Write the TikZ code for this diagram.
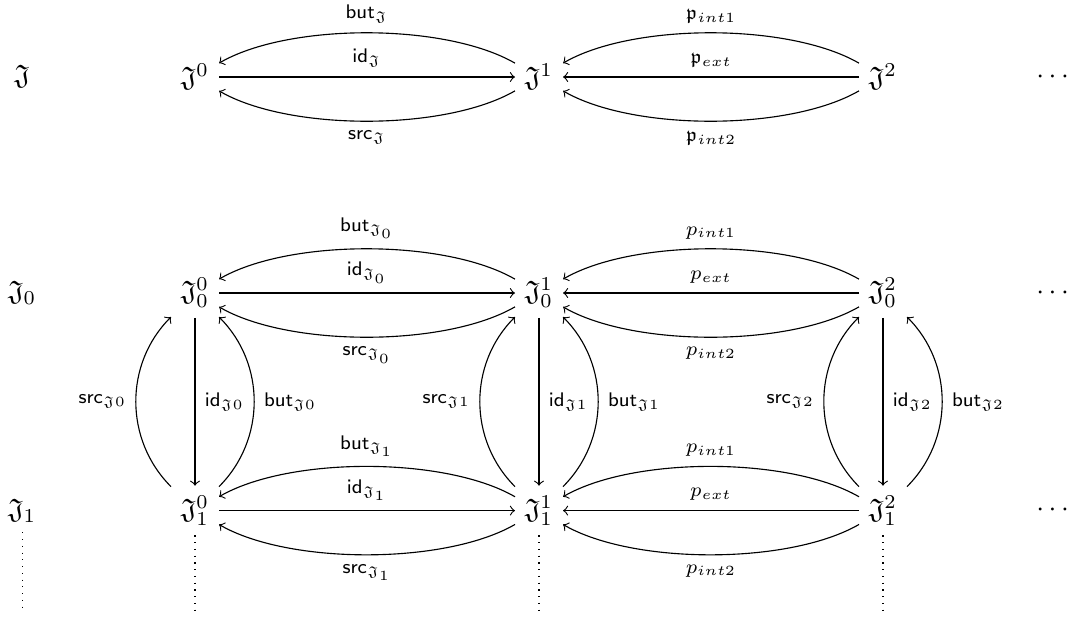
\documentclass[tikz,border=0pt]{standalone}
\usepackage{amsmath}
\usepackage{amssymb}
\usepackage{tikz}
\usetikzlibrary{arrows, positioning}

\begin{document}
\begin{tikzpicture}[on grid, lbl/.style={font=\scriptsize}]
            \useasboundingbox (-2.4375,3.6625) rectangle (10.9625,-4.0375);
            % row J_0
            \node (j00) at (0,0) {$\mathfrak{J}^0_0$};
            \node (j01) [right = 4.3cm of j00] {$\mathfrak{J}^1_0$};
            \node (j02) [right = 4.3cm of j01] {$\mathfrak{J}^2_0$};
            \node (lj0) [left = 2.16cm of j00] {$\mathfrak{J}_0$};
            \node (dj0) [right = 2.15cm of j02] {$\cdots$};
            % row J
            \node (j0) [above = 2.7cm of j00] {$\mathfrak{J}^0$};
            \node (j1) [above = 2.7cm of j01] {$\mathfrak{J}^1$};
            \node (j2) [above = 2.7cm of j02] {$\mathfrak{J}^2$};
            \node (lj) [above = 2.7cm of lj0] {$\mathfrak{J}$};
            \node (dj) [above = 2.7cm of dj0] {$\cdots$};
            % row J_1
            \node (j10) [below = 2.72cm of j00] {$\mathfrak{J}^0_1$};
            \node (j11) [below = 2.72cm of j01] {$\mathfrak{J}^1_1$};
            \node (j12) [below = 2.72cm of j02] {$\mathfrak{J}^2_1$};
            \node (lj1) [below = 2.72cm of lj0] {$\mathfrak{J}_1$};
            \node (dj1) [below = 2.72cm of dj0] {$\cdots$};
            \coordinate [below = 1.24cm of lj1] (vl);
            \coordinate [below = 1.24cm of j10] (v10);
            \coordinate [below = 1.24cm of j11] (v11);
            \coordinate [below = 1.24cm of j12] (v12);

            \path[->]  (j1) edge [bend right=30, looseness=0.7, above] node[lbl] {$\mathsf{but}_{\mathfrak{J}}$} (j0);
            \path[->]  (j0) edge [above] node[lbl] {$\mathsf{id}_{\mathfrak{J}}$} (j1);
            \path[->]  (j1) edge [bend left=30, looseness=0.7, below] node[lbl] {$\mathsf{src}_{\mathfrak{J}}$} (j0);
            \path[->]  (j2) edge [bend right=30, looseness=0.7, above] node[lbl] {$\mathfrak{p}_{int1}$} (j1);
            \path[->]  (j2) edge [above] node[lbl] {$\mathfrak{p}_{ext}$} (j1);
            \path[->]  (j2) edge [bend left=30, looseness=0.7, below] node[lbl] {$\mathfrak{p}_{int2}$} (j1);

            \path[->]  (j01) edge [bend right=30, looseness=0.7, above] node[lbl] {$\mathsf{but}_{\mathfrak{J}_0}$} (j00);
            \path[->]  (j00) edge [above] node[lbl] {$\mathsf{id}_{\mathfrak{J}_0}$} (j01);
            \path[->]  (j01) edge [bend left=30, looseness=0.7, below] node[lbl] {$\mathsf{src}_{\mathfrak{J}_0}$} (j00);
            \path[->]  (j02) edge [bend right=30, looseness=0.7, above] node[lbl] {$p_{int1}$} (j01);
            \path[->]  (j02) edge [above] node[lbl] {$p_{ext}$} (j01);
            \path[->]  (j02) edge [bend left=30, looseness=0.7, below] node[lbl] {$p_{int2}$} (j01);

            \path[->]  (j11) edge [bend right=30, looseness=0.7, above] node[lbl] {$\mathsf{but}_{\mathfrak{J}_1}$} (j10);
            \path[->]  (j10) edge [above] node[lbl] {$\mathsf{id}_{\mathfrak{J}_1}$} (j11);
            \path[->]  (j11) edge [bend left=30, looseness=0.7, below] node[lbl] {$\mathsf{src}_{\mathfrak{J}_1}$} (j10);
            \path[->]  (j12) edge [bend right=30, looseness=0.7, above] node[lbl] {$p_{int1}$} (j11);
            \path[->]  (j12) edge [above] node[lbl] {$p_{ext}$} (j11);
            \path[->]  (j12) edge [bend left=30, looseness=0.7, below] node[lbl] {$p_{int2}$} (j11);

            \path[->]  (j10) edge [bend left=45, left] node[lbl] {$\mathsf{src}_{\mathfrak{J}0}$} (j00);
            \path[->]  (j00) edge [right] node[lbl] {$\mathsf{id}_{\mathfrak{J}0}$} (j10);
            \path[->]  (j10) edge [bend right=45, right] node[lbl] {$\mathsf{but}_{\mathfrak{J}0}$} (j00);
            \path[->]  (j11) edge [bend left=45, left] node[lbl] {$\mathsf{src}_{\mathfrak{J}1}$} (j01);
            \path[->]  (j01) edge [right] node[lbl] {$\mathsf{id}_{\mathfrak{J}1}$} (j11);
            \path[->]  (j11) edge [bend right=45, right] node[lbl] {$\mathsf{but}_{\mathfrak{J}1}$} (j01);
            \path[->]  (j12) edge [bend left=45, left] node[lbl] {$\mathsf{src}_{\mathfrak{J}2}$} (j02);
            \path[->]  (j02) edge [right] node[lbl] {$\mathsf{id}_{\mathfrak{J}2}$} (j12);
            \path[->]  (j12) edge [bend right=45, right] node[lbl] {$\mathsf{but}_{\mathfrak{J}2}$} (j02);

            \path[dotted]  (lj1) edge (vl);
            \path[dotted]  (j10) edge (v10);
            \path[dotted]  (j11) edge (v11);
            \path[dotted]  (j12) edge (v12);
        \end{tikzpicture}
\end{document}
